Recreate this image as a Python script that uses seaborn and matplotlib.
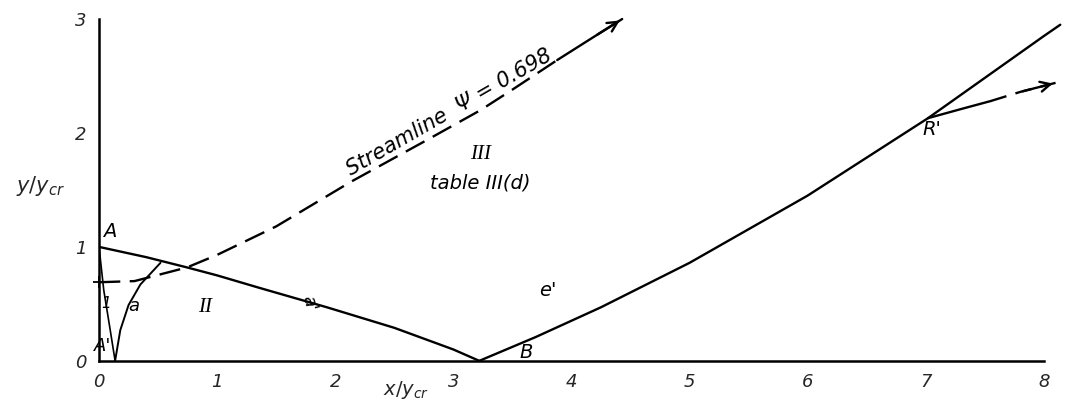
import matplotlib
matplotlib.use("Agg")
import matplotlib.pyplot as plt
import seaborn as sns
import pandas as pd

# curve A-B (boundary of region II)
ab_x = [0.0, 0.4, 0.745, 1.0, 1.36, 1.93, 2.5, 3.0, 3.22]
ab_y = [1.0, 0.91, 0.82, 0.75, 0.64, 0.47, 0.29, 0.10, 0.0]

# curve e' from B upwards
e_x = [3.22, 3.7, 4.25, 5.0, 6.0, 7.02, 8.0, 8.14]
e_y = [0.0, 0.21, 0.47, 0.86, 1.45, 2.13, 2.85, 2.95]

# streamline psi = 0.698 (dashed part, then solid part)
stream_dash_x = [0.0, 0.3, 0.745, 1.0, 1.5, 2.13, 2.78, 3.23, 3.5, 3.88]
stream_dash_y = [0.69, 0.70, 0.82, 0.93, 1.18, 1.57, 1.94, 2.20, 2.38, 2.64]
stream_solid_x = [3.88, 4.2, 4.43]
stream_solid_y = [2.64, 2.85, 3.0]

# characteristic a and characteristic 1
a_x = [0.136, 0.18, 0.25, 0.35, 0.52]
a_y = [0.0, 0.27, 0.49, 0.67, 0.86]
one_x = [0.0, 0.04, 0.09, 0.136]
one_y = [1.0, 0.62, 0.30, 0.0]

# streamline leaving R'
r_solid_x = [7.02, 7.3, 7.55]
r_solid_y = [2.13, 2.21, 2.28]
r_dash_x = [7.55, 7.8, 8.1]
r_dash_y = [2.28, 2.36, 2.44]

x_ticks = [0, 1, 2, 3, 4, 5, 6, 7, 8]
y_ticks = [0, 1, 2, 3]

sns.set_style("white")
plt.rcParams["font.family"] = ["DejaVu Sans"]

fig = plt.figure(figsize=(10.65, 4.05), dpi=100)
ax = fig.add_axes([0.093, 0.109, 0.907, 0.891])

lw = 1.7
sns.lineplot(x=ab_x, y=ab_y, sort=False, estimator=None, color="black", lw=lw, ax=ax)
sns.lineplot(x=e_x, y=e_y, sort=False, estimator=None, color="black", lw=lw, ax=ax)
sns.lineplot(x=stream_dash_x, y=stream_dash_y, sort=False, estimator=None,
             color="black", lw=lw, dashes=(9, 4), ax=ax)
sns.lineplot(x=stream_solid_x, y=stream_solid_y, sort=False, estimator=None,
             color="black", lw=lw, ax=ax)
sns.lineplot(x=a_x, y=a_y, sort=False, estimator=None, color="black", lw=1.4, ax=ax)
sns.lineplot(x=one_x, y=one_y, sort=False, estimator=None, color="black", lw=1.2, ax=ax)
sns.lineplot(x=r_solid_x, y=r_solid_y, sort=False, estimator=None, color="black", lw=lw, ax=ax)
sns.lineplot(x=r_dash_x, y=r_dash_y, sort=False, estimator=None,
             color="black", lw=lw, dashes=(7, 4), ax=ax)
# small cross where the streamline meets the wall
ax.plot(stream_dash_x[0], stream_dash_y[0], marker="+", ms=9, mew=1.3, color="black",
        clip_on=False)

# arrow heads
ax.annotate("", xy=(stream_solid_x[-1], stream_solid_y[-1]),
            xytext=(stream_solid_x[-2], stream_solid_y[-2]),
            arrowprops=dict(arrowstyle="->", lw=lw, color="black", mutation_scale=18))
ax.annotate("", xy=(r_dash_x[-1], r_dash_y[-1]), xytext=(r_dash_x[-2], r_dash_y[-2]),
            arrowprops=dict(arrowstyle="->", lw=lw, color="black", mutation_scale=18))

ax.set_xlim(0, 8.18)
ax.set_ylim(0, 3.167)
ax.set_xticks(x_ticks)
ax.set_yticks(y_ticks)
ax.set_xticklabels([str(t) for t in x_ticks], fontsize=13, fontstyle="italic")
ax.set_yticklabels([str(t) for t in y_ticks], fontsize=13, fontstyle="italic")
ax.tick_params(direction="in", length=7, width=1.3, color="black", pad=9)

for s in ["top", "right"]:
    ax.spines[s].set_visible(False)
ax.spines["left"].set_bounds(0, 3)
ax.spines["bottom"].set_bounds(0, 8)
for s in ["left", "bottom"]:
    ax.spines[s].set_color("black")
    ax.spines[s].set_linewidth(1.8)

ax.set_xlabel(r"$x/y_{cr}$", fontsize=14)
ax.xaxis.set_label_coords(0.318, -0.05)
ax.set_ylabel(r"$y/y_{cr}$", fontsize=15, rotation=0)
ax.yaxis.set_label_coords(-0.061, 0.45)

it = dict(fontstyle="italic", color="black")
ax.text(0.03, 1.05, "A", fontsize=14, ha="left", va="bottom", **it)
ax.text(0.06, 0.5, "1", fontsize=11, ha="center", va="center", **it)
ax.text(0.29, 0.48, "a", fontsize=13, ha="center", va="center", **it)
ax.text(0.03, 0.13, "A'", fontsize=13, ha="center", va="center", **it)
ax.text(0.9, 0.47, "II", fontsize=15, ha="center", va="center",
        family="Liberation Serif", **it)
ax.text(1.78, 0.5, "a'", fontsize=13, ha="center", va="center", rotation=-75, **it)
ax.text(3.23, 1.81, "III", fontsize=15, ha="center", va="center",
        family="Liberation Serif", **it)
ax.text(3.23, 1.56, "table III(d)", fontsize=14, ha="center", va="center", **it)
ax.text(3.8, 0.62, "e'", fontsize=14, ha="center", va="center", **it)
ax.text(3.62, 0.07, "B", fontsize=14, ha="center", va="center", **it)
ax.text(7.05, 2.03, "R'", fontsize=14, ha="center", va="center", **it)
ax.text(2.13, 1.62, "Streamline  \u03a8 = 0.698", fontsize=15, ha="left", va="baseline",
        rotation=30, rotation_mode="anchor", **it)

fig.savefig("out.png", dpi=100)
